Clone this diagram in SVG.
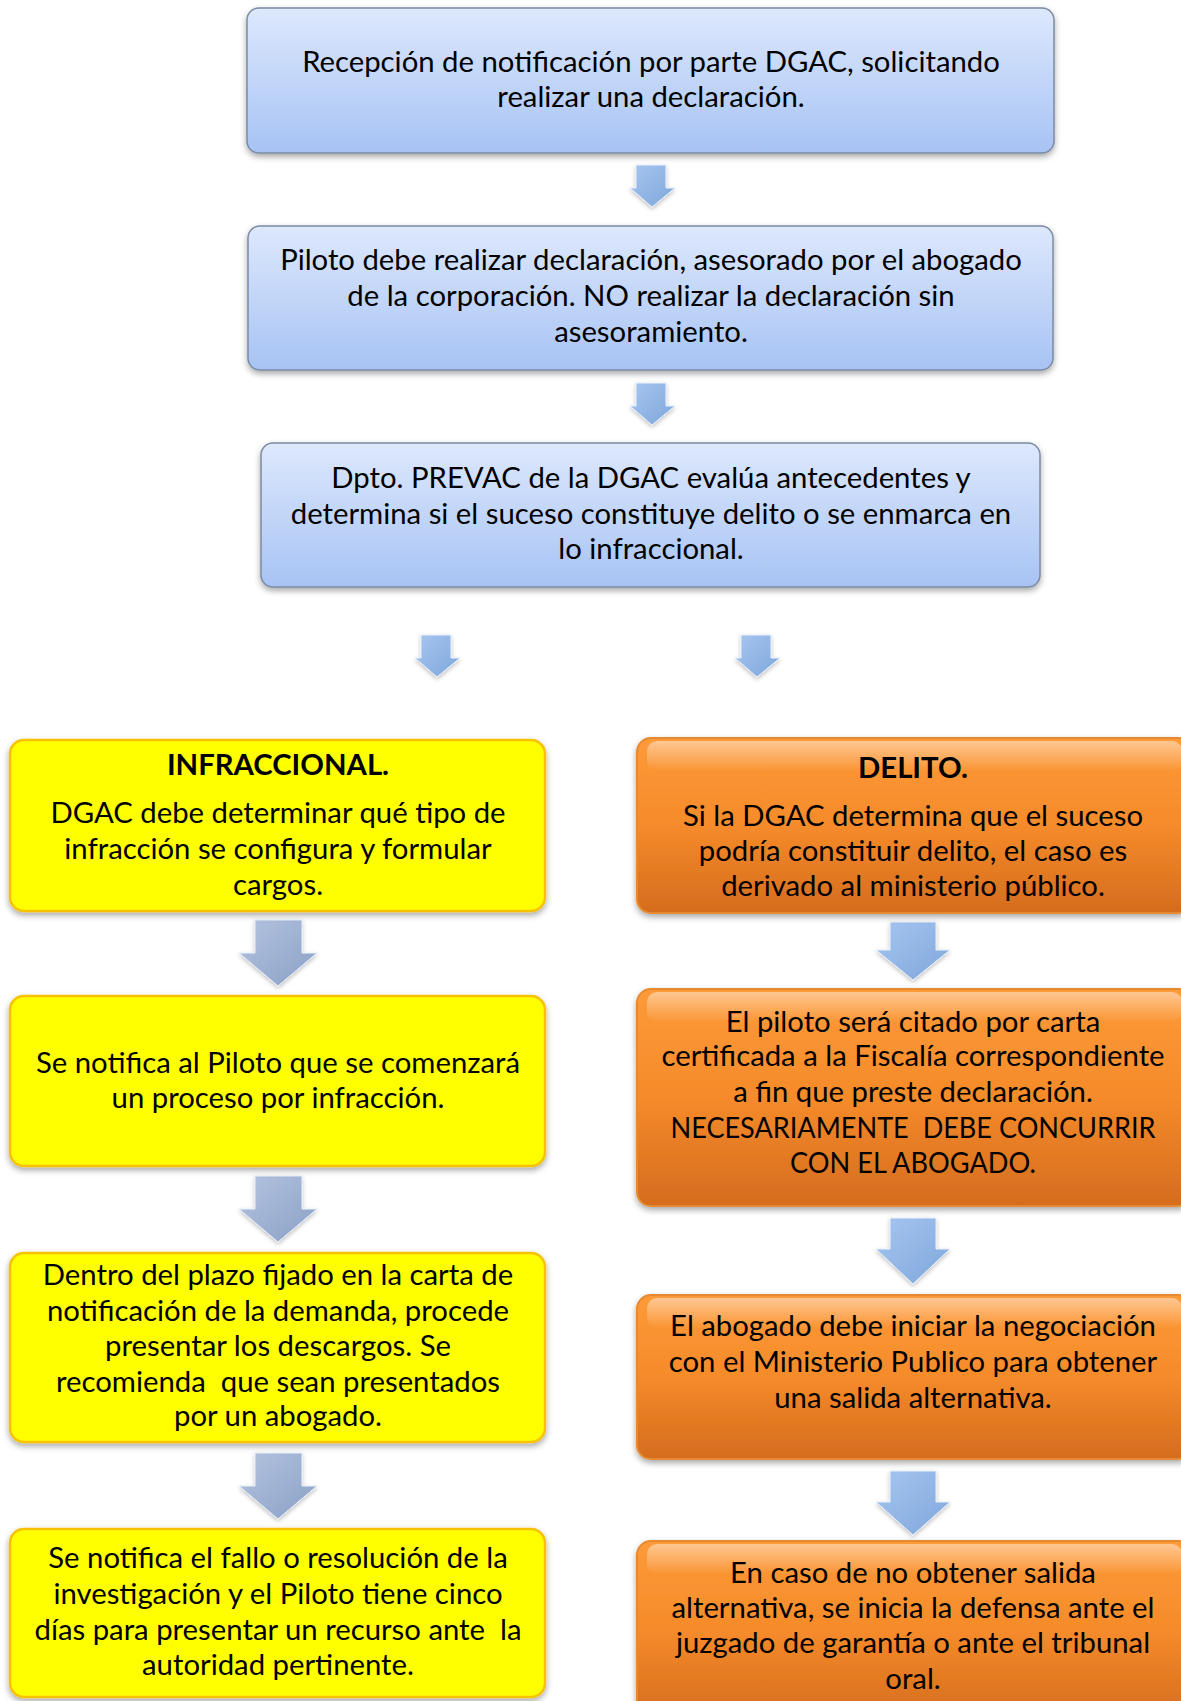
<svg xmlns="http://www.w3.org/2000/svg" width="1181" height="1701" viewBox="0 0 1181 1701">
<defs>
<linearGradient id="gBlue" x1="0" y1="0" x2="0" y2="1">
<stop offset="0" stop-color="#dde8fc"/>
<stop offset="1" stop-color="#a7c3f4"/>
</linearGradient>
<linearGradient id="gOrange" x1="0" y1="0" x2="0" y2="1">
<stop offset="0" stop-color="#fd9a38"/>
<stop offset="0.5" stop-color="#f58b2a"/>
<stop offset="1" stop-color="#d46c1e"/>
</linearGradient>
<linearGradient id="gGloss" x1="0" y1="0" x2="0" y2="1">
<stop offset="0" stop-color="#ffffff" stop-opacity="0.45"/>
<stop offset="1" stop-color="#ffffff" stop-opacity="0"/>
</linearGradient>
<linearGradient id="gArrow" x1="0" y1="0" x2="1" y2="1">
<stop offset="0" stop-color="#a7c6f0"/>
<stop offset="1" stop-color="#7ea6db"/>
</linearGradient>
<linearGradient id="gArrowGray" x1="0" y1="0" x2="1" y2="1">
<stop offset="0" stop-color="#b4c4df"/>
<stop offset="1" stop-color="#8aa0c6"/>
</linearGradient>
<filter id="shadow" x="-5%" y="-10%" width="110%" height="130%">
<feDropShadow dx="0" dy="3" stdDeviation="3" flood-color="#000" flood-opacity="0.35"/>
</filter>
<filter id="ashadow" x="-30%" y="-30%" width="160%" height="160%">
<feDropShadow dx="0" dy="2" stdDeviation="2" flood-color="#000" flood-opacity="0.25"/>
</filter>
</defs>
<style>
.blue{fill:url(#gBlue);stroke:#7b8aa3;stroke-width:1.5}
.yel{fill:#ffff00;stroke:#f6c200;stroke-width:2.5}
.org{fill:url(#gOrange);stroke:#e58a30;stroke-width:2}
.gloss{fill:url(#gGloss)}
text{font-family:Lato,"Open Sans","Liberation Sans",sans-serif;font-size:29.3px;fill:#000;text-anchor:middle;white-space:pre}
.b{font-weight:bold}
.arr{fill:url(#gArrow);stroke:#e8f0fb;stroke-width:1;filter:url(#ashadow)}
.arrg{fill:url(#gArrowGray);stroke:#e8eef8;stroke-width:1;filter:url(#ashadow)}
</style>
<rect width="1181" height="1701" fill="#ffffff"/>

<g id="connectors">
<polygon class="arr" points="636,165 666,165 666,188 675,188 652,207 630,188 636,188"/>
<polygon class="arr" points="636,383 666,383 666,406 675,406 652,425 630,406 636,406"/>
<polygon class="arr" points="421,635 451,635 451,658 460,658 437,677 415,658 421,658"/>
<polygon class="arr" points="741,635 771,635 771,658 780,658 757,677 735,658 741,658"/>
<polygon class="arrg" points="255,920 302,920 302,953 317,953 278,986 239,953 255,953"/>
<polygon class="arrg" points="255,1176 302,1176 302,1209 317,1209 278,1242 239,1209 255,1209"/>
<polygon class="arrg" points="255,1453 302,1453 302,1486 317,1486 278,1519 239,1486 255,1486"/>
<polygon class="arr" points="890,922 936,922 936,950 950,950 913,980 876,950 890,950"/>
<polygon class="arr" points="890,1218 936,1218 936,1249 950,1249 913,1284 876,1249 890,1249"/>
<polygon class="arr" points="890,1471 936,1471 936,1502 950,1502 913,1535 876,1502 890,1502"/>
</g>

<g id="n1">
<rect class="blue" x="247" y="8" width="807" height="145" rx="12" filter="url(#shadow)"/>
<text x="651" y="72">Recepción de notificación por parte DGAC, solicitando</text>
<text x="651" y="107">realizar una declaración.</text>
</g>

<g id="n2">
<rect class="blue" x="248" y="226" width="805" height="144" rx="12" filter="url(#shadow)"/>
<text x="651" y="270">Piloto debe realizar declaración, asesorado por el abogado</text>
<text x="651" y="306">de la corporación. NO realizar la declaración sin</text>
<text x="651" y="342">asesoramiento.</text>
</g>

<g id="n3">
<rect class="blue" x="261" y="443" width="779" height="144" rx="12" filter="url(#shadow)"/>
<text x="651" y="488">Dpto. PREVAC de la DGAC evalúa antecedentes y</text>
<text x="651" y="524">determina si el suceso constituye delito o se enmarca en</text>
<text x="651" y="559">lo infraccional.</text>
</g>

<g id="n4">
<rect class="yel" x="10" y="740" width="535" height="171" rx="14" filter="url(#shadow)"/>
<text class="b" x="278" y="775">INFRACCIONAL.</text>
<text x="278" y="823">DGAC debe determinar qué tipo de</text>
<text x="278" y="859">infracción se configura y formular</text>
<text x="278" y="895">cargos.</text>
</g>

<g id="n5">
<rect class="yel" x="10" y="996" width="535" height="170" rx="14" filter="url(#shadow)"/>
<text x="278" y="1073">Se notifica al Piloto que se comenzará</text>
<text x="278" y="1108">un proceso por infracción.</text>
</g>

<g id="n6">
<rect class="yel" x="10" y="1253" width="535" height="189" rx="14" filter="url(#shadow)"/>
<text x="278" y="1285">Dentro del plazo fijado en la carta de</text>
<text x="278" y="1321">notificación de la demanda, procede</text>
<text x="278" y="1356">presentar los descargos. Se</text>
<text x="278" y="1392">recomienda  que sean presentados</text>
<text x="278" y="1426">por un abogado.</text>
</g>

<g id="n7">
<rect class="yel" x="10" y="1529" width="535" height="168" rx="14" filter="url(#shadow)"/>
<text x="278" y="1568">Se notifica el fallo o resolución de la</text>
<text x="278" y="1604">investigación y el Piloto tiene cinco</text>
<text x="278" y="1640">días para presentar un recurso ante  la</text>
<text x="278" y="1675">autoridad pertinente.</text>
</g>

<g id="n8">
<rect class="org" x="637" y="738" width="555" height="175" rx="14" filter="url(#shadow)"/>
<rect class="gloss" x="647" y="741" width="535" height="30" rx="10"/>
<text class="b" x="913" y="778">DELITO.</text>
<text x="913" y="826">Si la DGAC determina que el suceso</text>
<text x="913" y="861">podría constituir delito, el caso es</text>
<text x="913" y="896">derivado al ministerio público.</text>
</g>

<g id="n9">
<rect class="org" x="637" y="989" width="555" height="217" rx="14" filter="url(#shadow)"/>
<rect class="gloss" x="647" y="992" width="535" height="30" rx="10"/>
<text x="913" y="1032">El piloto será citado por carta</text>
<text x="913" y="1066">certificada a la Fiscalía correspondiente</text>
<text x="913" y="1102">a fin que preste declaración.</text>
<text x="913" y="1138" textLength="485" lengthAdjust="spacingAndGlyphs">NECESARIAMENTE  DEBE CONCURRIR</text>
<text x="913" y="1173" textLength="246" lengthAdjust="spacingAndGlyphs">CON EL ABOGADO.</text>
</g>

<g id="n10">
<rect class="org" x="637" y="1295" width="555" height="164" rx="14" filter="url(#shadow)"/>
<rect class="gloss" x="647" y="1298" width="535" height="30" rx="10"/>
<text x="913" y="1336">El abogado debe iniciar la negociación</text>
<text x="913" y="1372">con el Ministerio Publico para obtener</text>
<text x="913" y="1408">una salida alternativa.</text>
</g>

<g id="n11">
<rect class="org" x="637" y="1541" width="555" height="180" rx="14" filter="url(#shadow)"/>
<rect class="gloss" x="647" y="1544" width="535" height="30" rx="10"/>
<text x="913" y="1583">En caso de no obtener salida</text>
<text x="913" y="1618">alternativa, se inicia la defensa ante el</text>
<text x="913" y="1653">juzgado de garantía o ante el tribunal</text>
<text x="913" y="1689">oral.</text>
</g>
</svg>
